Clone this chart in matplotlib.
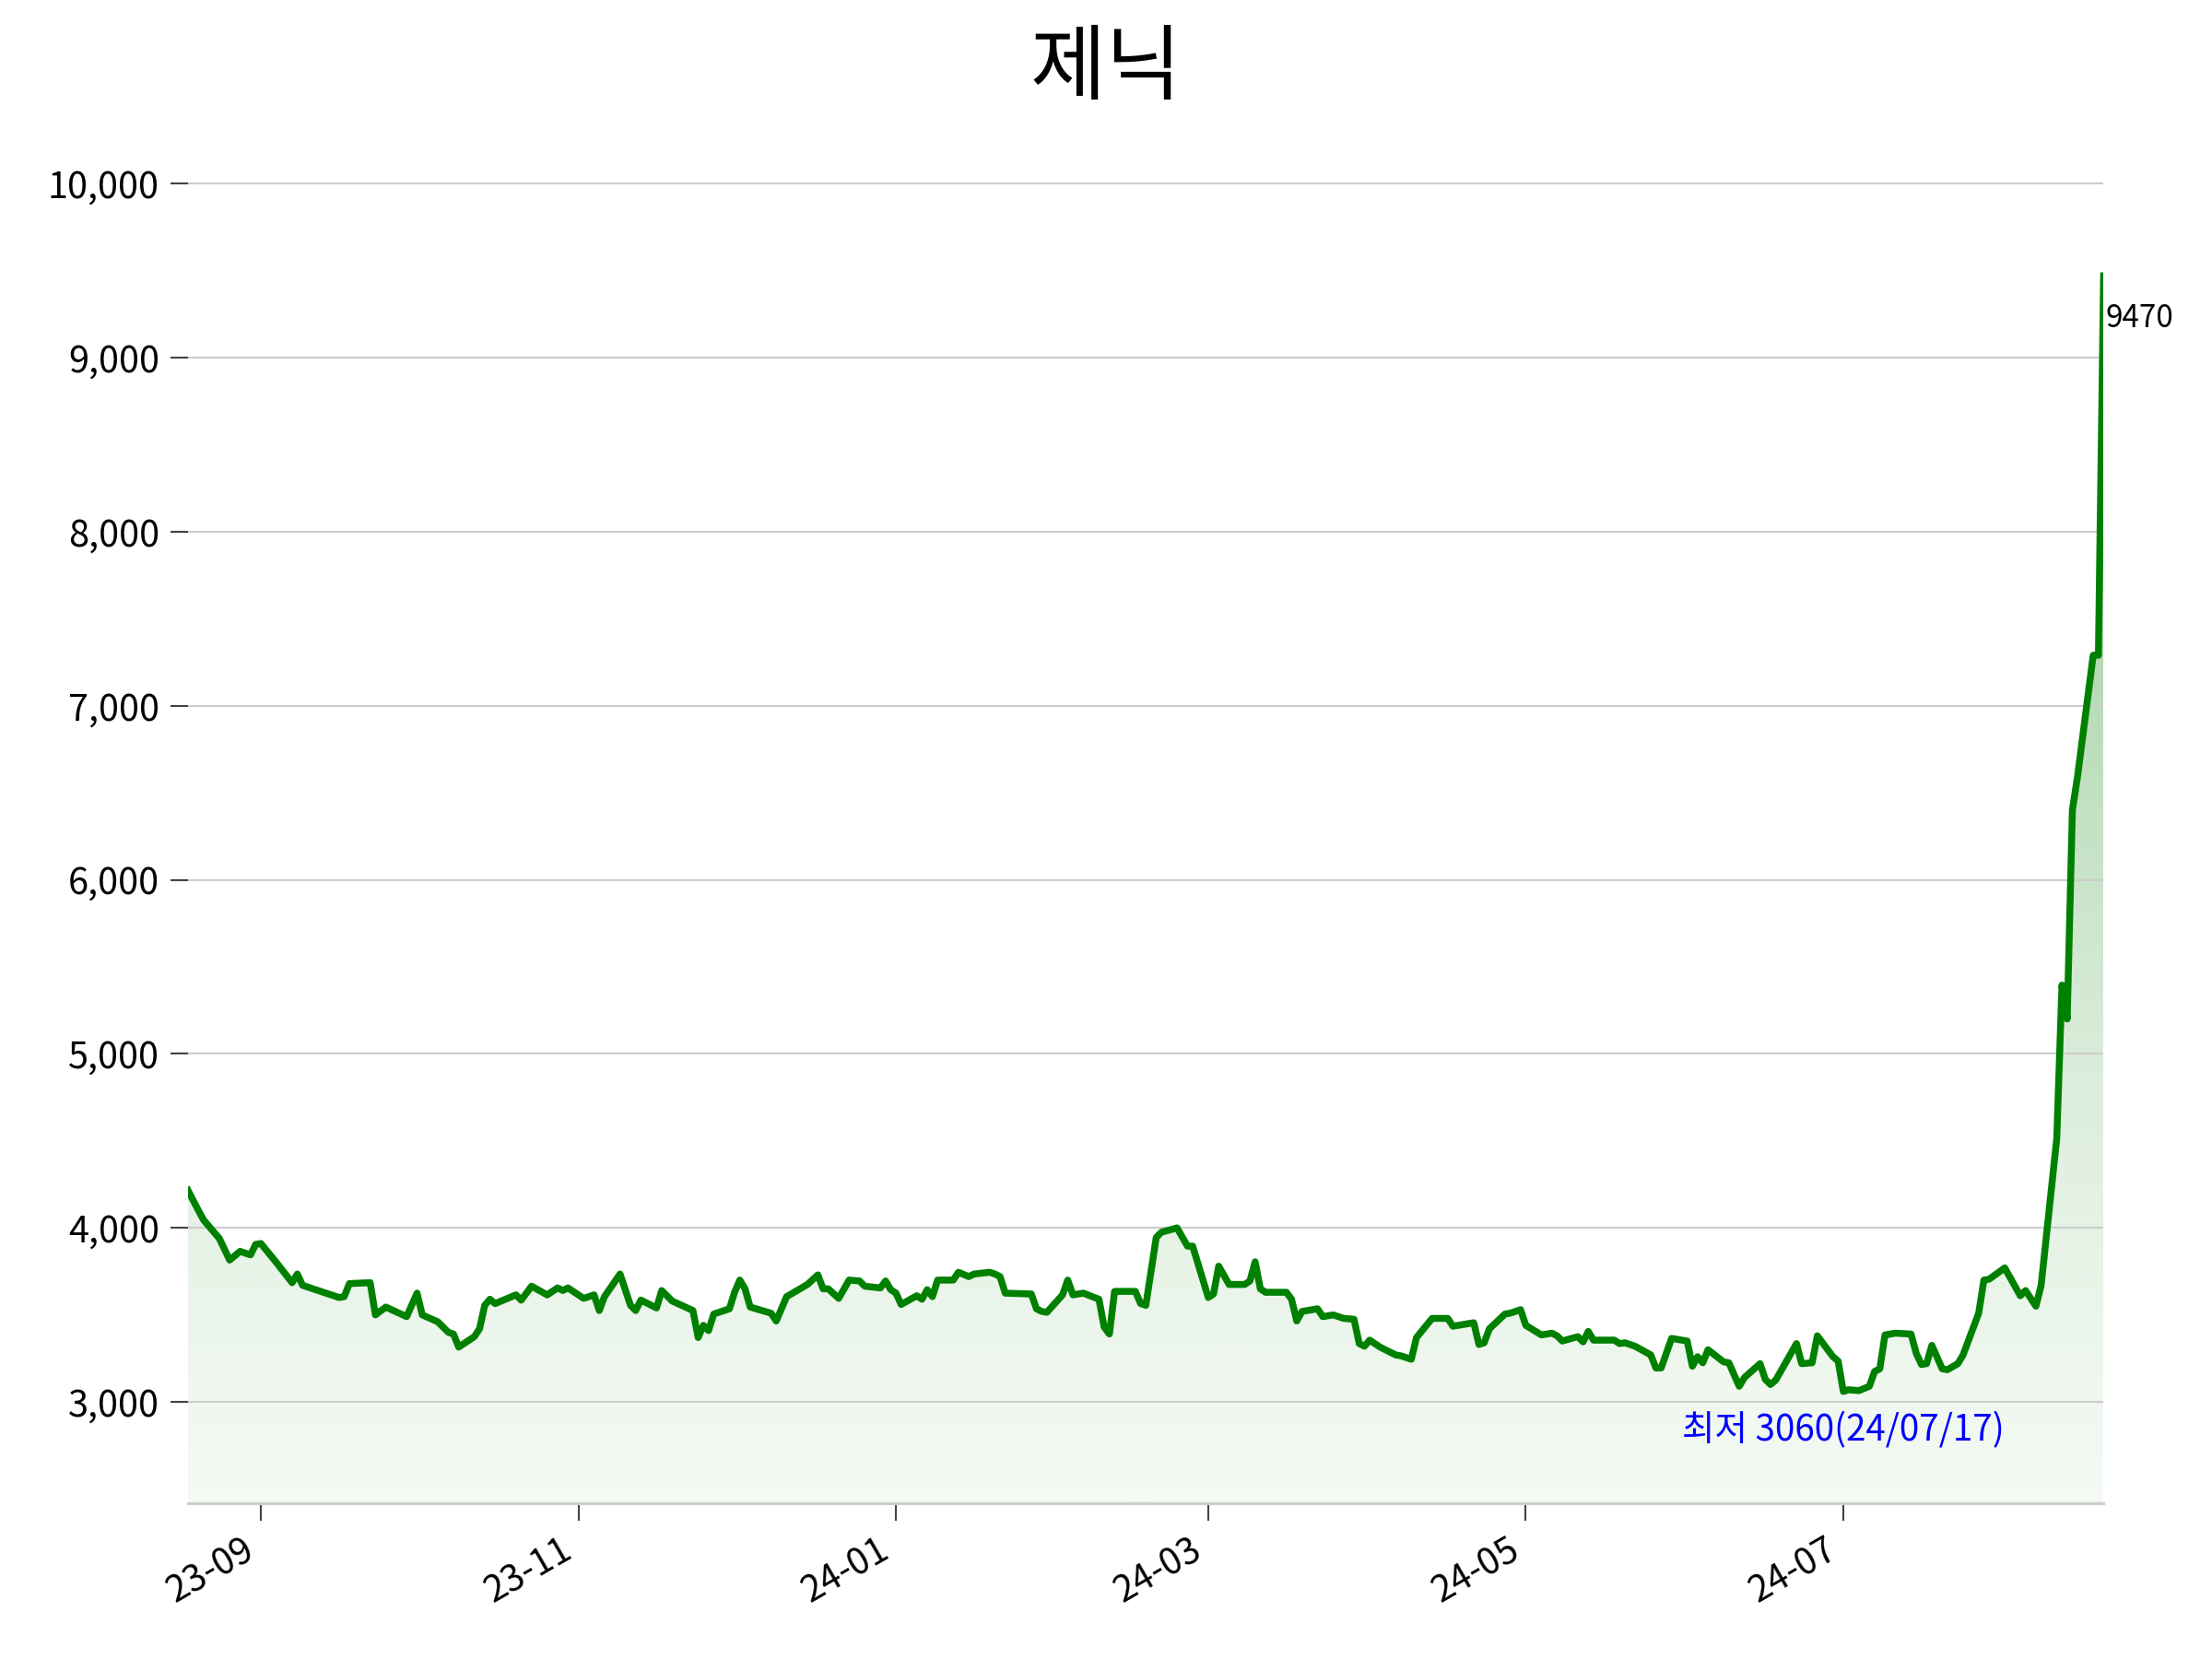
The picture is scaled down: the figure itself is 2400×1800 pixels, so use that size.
import numpy as np
import pandas as pd
import matplotlib
matplotlib.use("Agg")
import matplotlib.pyplot as plt
import matplotlib.dates as mdates
from matplotlib.ticker import FuncFormatter

plt.rcParams['font.family'] = ['Noto Sans CJK KR', 'DejaVu Sans']

title = "제닉"
low_label = "최저 3060(24/07/17)"

dates = [
    "2023-08-18", "2023-08-20", "2023-08-21", "2023-08-24", "2023-08-26", "2023-08-28",
    "2023-08-30", "2023-08-31", "2023-09-01", "2023-09-04", "2023-09-07", "2023-09-08",
    "2023-09-09", "2023-09-16", "2023-09-17", "2023-09-18", "2023-09-22", "2023-09-23",
    "2023-09-25", "2023-09-29", "2023-10-01", "2023-10-02", "2023-10-05", "2023-10-07",
    "2023-10-08", "2023-10-09", "2023-10-12", "2023-10-13", "2023-10-14", "2023-10-15",
    "2023-10-16", "2023-10-20", "2023-10-21", "2023-10-23", "2023-10-26", "2023-10-28",
    "2023-10-29", "2023-10-30", "2023-11-02", "2023-11-04", "2023-11-05", "2023-11-06",
    "2023-11-09", "2023-11-11", "2023-11-12", "2023-11-13", "2023-11-16", "2023-11-17",
    "2023-11-19", "2023-11-23", "2023-11-24", "2023-11-25", "2023-11-26", "2023-11-27",
    "2023-11-30", "2023-12-01", "2023-12-02", "2023-12-03", "2023-12-04", "2023-12-08",
    "2023-12-09", "2023-12-11", "2023-12-15", "2023-12-17", "2023-12-18", "2023-12-19",
    "2023-12-21", "2023-12-23", "2023-12-25", "2023-12-26", "2023-12-29", "2023-12-30",
    "2023-12-31", "2024-01-01", "2024-01-02", "2024-01-05", "2024-01-06", "2024-01-07",
    "2024-01-08", "2024-01-09", "2024-01-12", "2024-01-13", "2024-01-15", "2024-01-16",
    "2024-01-19", "2024-01-20", "2024-01-21", "2024-01-22", "2024-01-27", "2024-01-28",
    "2024-01-29", "2024-01-30", "2024-02-02", "2024-02-03", "2024-02-04", "2024-02-06",
    "2024-02-09", "2024-02-10", "2024-02-11", "2024-02-12", "2024-02-16", "2024-02-17",
    "2024-02-18", "2024-02-20", "2024-02-21", "2024-02-24", "2024-02-26", "2024-02-27",
    "2024-03-01", "2024-03-02", "2024-03-03", "2024-03-05", "2024-03-08", "2024-03-09",
    "2024-03-10", "2024-03-11", "2024-03-12", "2024-03-16", "2024-03-17", "2024-03-18",
    "2024-03-19", "2024-03-22", "2024-03-23", "2024-03-25", "2024-03-27", "2024-03-29",
    "2024-03-30", "2024-03-31", "2024-04-01", "2024-04-03", "2024-04-06", "2024-04-07",
    "2024-04-09", "2024-04-10", "2024-04-13", "2024-04-16", "2024-04-17", "2024-04-21",
    "2024-04-22", "2024-04-23", "2024-04-24", "2024-04-27", "2024-04-28", "2024-04-30",
    "2024-05-01", "2024-05-04", "2024-05-06", "2024-05-07", "2024-05-08", "2024-05-11",
    "2024-05-12", "2024-05-13", "2024-05-14", "2024-05-18", "2024-05-19", "2024-05-20",
    "2024-05-22", "2024-05-25", "2024-05-26", "2024-05-27", "2024-05-29", "2024-06-01",
    "2024-06-02", "2024-06-03", "2024-06-04", "2024-06-05", "2024-06-08", "2024-06-09",
    "2024-06-11", "2024-06-12", "2024-06-15", "2024-06-16", "2024-06-17", "2024-06-18",
    "2024-06-22", "2024-06-23", "2024-06-25", "2024-06-26", "2024-06-29", "2024-06-30",
    "2024-07-01", "2024-07-02", "2024-07-04", "2024-07-06", "2024-07-07", "2024-07-08",
    "2024-07-09", "2024-07-11", "2024-07-14", "2024-07-15", "2024-07-16", "2024-07-17",
    "2024-07-18", "2024-07-20", "2024-07-21", "2024-07-23", "2024-07-24", "2024-07-27",
    "2024-07-28", "2024-07-29", "2024-08-01", "2024-08-04", "2024-08-05", "2024-08-07",
    "2024-08-08", "2024-08-11", "2024-08-12", "2024-08-13", "2024-08-14", "2024-08-15",
    "2024-08-18", "2024-08-19", "2024-08-20",
]

prices = [
    4215, 4100, 4045, 3940, 3815, 3865,
    3845, 3905, 3910, 3800, 3685, 3735,
    3670, 3600, 3605, 3680, 3685, 3500,
    3545, 3490, 3625, 3500, 3460, 3400,
    3390, 3315, 3375, 3420, 3555, 3590,
    3565, 3615, 3585, 3665, 3615, 3655,
    3640, 3655, 3595, 3615, 3525, 3605,
    3735, 3555, 3525, 3585, 3540, 3640,
    3580, 3525, 3370, 3440, 3410, 3505,
    3535, 3630, 3700, 3650, 3545, 3510,
    3465, 3605, 3675, 3730, 3650, 3650,
    3595, 3700, 3695, 3665, 3655, 3695,
    3645, 3625, 3560, 3610, 3590, 3645,
    3605, 3700, 3700, 3745, 3720, 3735,
    3745, 3735, 3720, 3625, 3620, 3535,
    3520, 3515, 3615, 3700, 3615, 3625,
    3590, 3430, 3390, 3635, 3635, 3565,
    3555, 3945, 3975, 4000, 3895, 3895,
    3600, 3620, 3780, 3675, 3675, 3695,
    3805, 3650, 3630, 3630, 3590, 3465,
    3520, 3535, 3490, 3500, 3480, 3475,
    3335, 3320, 3355, 3315, 3270, 3265,
    3245, 3370, 3480, 3480, 3435, 3455,
    3330, 3340, 3420, 3505, 3510, 3530,
    3440, 3385, 3395, 3380, 3350, 3375,
    3345, 3405, 3355, 3355, 3335, 3340,
    3320, 3270, 3195, 3195, 3365, 3350,
    3205, 3260, 3225, 3300, 3230, 3225,
    3090, 3140, 3220, 3130, 3100, 3125,
    3335, 3220, 3225, 3380, 3260, 3235,
    3060, 3070, 3065, 3090, 3175, 3190,
    3385, 3395, 3390, 3280, 3215, 3220,
    3325, 3190, 3185, 3220, 3270, 3510,
    3700, 3705, 3770, 3610, 3640, 3550,
    3670, 4515, 5395, 5200, 6400, 6595,
    7290, 7290, 9470,
]

y_ticks = [3000, 4000, 5000, 6000, 7000, 8000, 9000, 10000]

x = mdates.date2num(pd.to_datetime(dates))
y = np.array(prices, dtype=float)

span = y.max() - y.min()
y_bottom = y.min() - span * 0.1
y_top = y.max() + span * 0.1

fig = plt.figure(figsize=(16, 12), dpi=150)
ax = fig.add_axes([0.085, 0.094, 0.866, 0.807])

# gradient fill under the line
fill = ax.fill_between(x, y, y_bottom, color='none', lw=0)
t = np.linspace(0, 1, 512).reshape(-1, 1)
rgba = np.zeros((512, 1, 4))
rgba[..., 1] = 128 / 255
rgba[..., 3] = 0.05 + 0.42 * t ** 1.4
img = ax.imshow(rgba, extent=[x.min(), x.max(), y_bottom, y.max()],
                origin='lower', aspect='auto', zorder=0.5)
img.set_clip_path(fill.get_paths()[0], transform=ax.transData)

ax.plot(x, y, color='#008000', lw=3.6, zorder=3, solid_joinstyle='round')

ax.set_xlim(x.min(), x.max())
ax.set_ylim(y_bottom, y_top)

ax.set_yticks(y_ticks)
ax.yaxis.set_major_formatter(FuncFormatter(lambda v, _: f"{int(v):,}"))
ax.grid(axis='y', color='#cccccc', lw=1.0)
ax.xaxis.set_major_locator(mdates.MonthLocator(bymonth=[1, 3, 5, 7, 9, 11]))
ax.xaxis.set_major_formatter(mdates.DateFormatter('%y-%m'))

for side in ['top', 'right', 'left']:
    ax.spines[side].set_visible(False)
ax.spines['bottom'].set_color('#cccccc')
ax.spines['bottom'].set_linewidth(1.5)

ax.tick_params(axis='y', labelsize=19, length=9, width=1, color='#444444', pad=6)
ax.tick_params(axis='x', labelsize=19, length=9, width=1, color='#444444', pad=6)
plt.setp(ax.get_xticklabels(), rotation=30, ha='right')

# last value and minimum annotations
ax.annotate(f"{int(y[-1])}", xy=(x[-1], y[-1]), xytext=(1, -14),
            textcoords='offset points', ha='left', va='top', fontsize=16)
i_min = int(np.argmin(y))
ax.annotate(low_label, xy=(x[i_min], y[i_min]), xytext=(0, -11),
            textcoords='offset points', ha='center', va='top',
            fontsize=18.5, color='blue')

fig.suptitle(title, fontsize=43, y=0.958, va='center')

fig.savefig("out.png", dpi=150)
